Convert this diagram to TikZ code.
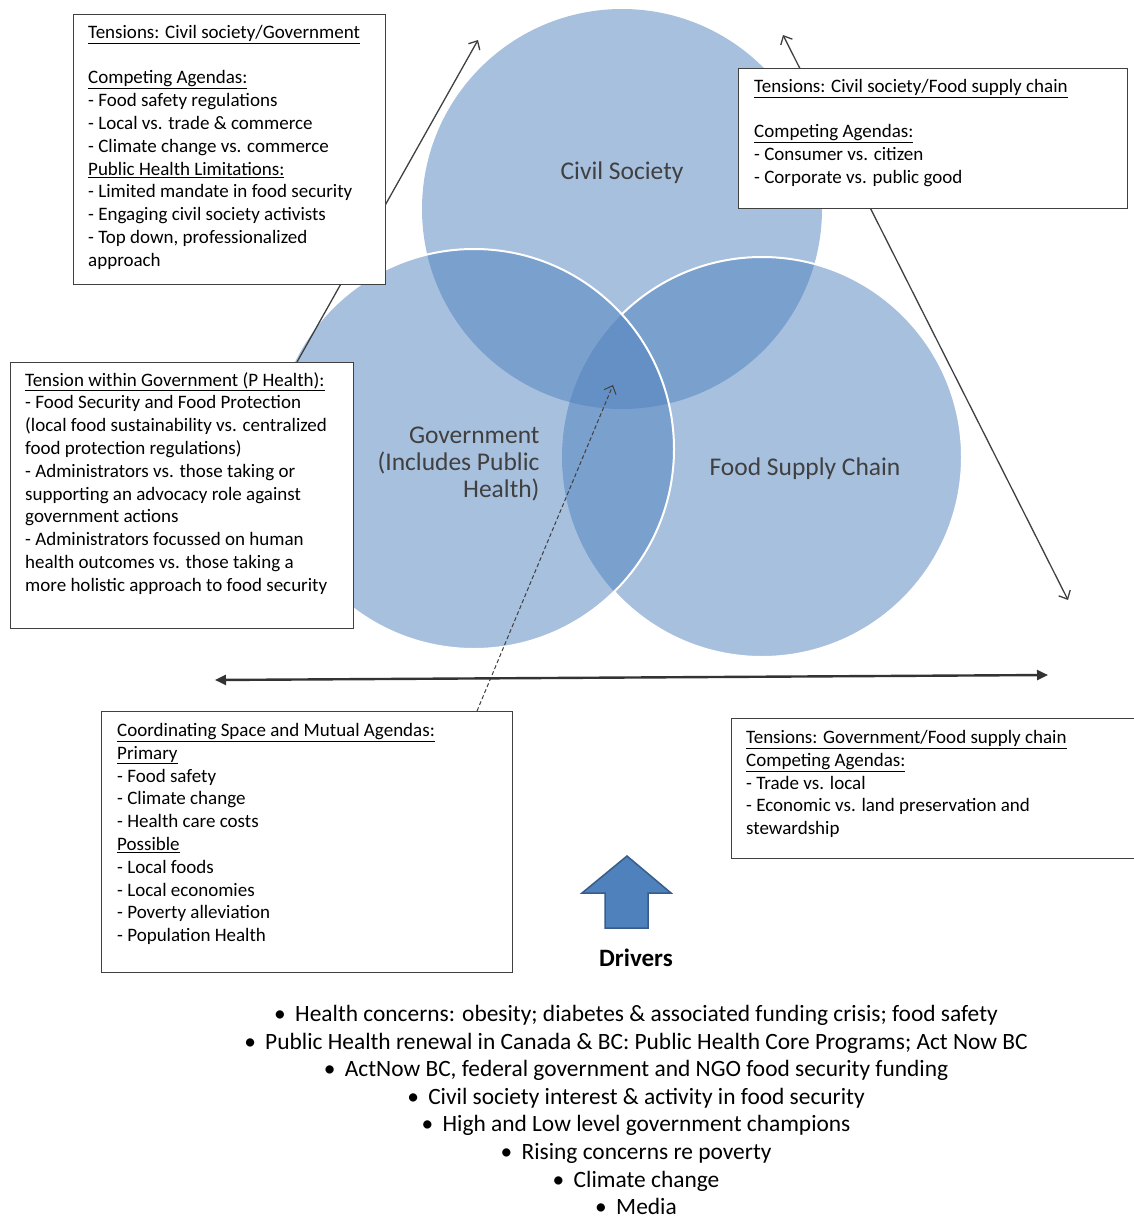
\documentclass[tikz,border=0pt]{standalone}
\usepackage{fontspec}
\setmainfont{Carlito}
\usetikzlibrary{arrows.meta,positioning,calc}
\pgfdeclarelayer{venn}
\pgfdeclarelayer{links}
\pgfsetlayers{venn,links,main}
\definecolor{vennblue}{RGB}{79,129,189}
\definecolor{arrowedge}{RGB}{56,93,138}
\definecolor{labelgray}{RGB}{64,64,64}

\begin{document}
\begin{tikzpicture}[
        x=1pt, y=-1pt, semithick,
        >={Straight Barb[length=7pt,width=13pt]}
    ]

    \tikzstyle{venn} = [circle,minimum size=400pt,inner sep=0pt,fill=vennblue,fill opacity=0.5]
    \tikzstyle{vlabel} = [text=labelgray,font=\fontsize{25.5}{27}\selectfont]
    \tikzstyle{block} = [rectangle,draw=black!75,line width=1.2pt,fill=white,anchor=north west,inner sep=0pt]
    \tikzstyle{blocktext} = [anchor=north west,align=left,inner sep=0pt,font=\fontsize{19}{22.8}\selectfont]
    \tikzstyle{link} = [draw=black!75,line width=1.3pt]
    \tikzstyle{both} = [line width=2.4pt,draw=black!80,{Triangle[length=11pt,width=10pt]}-{Triangle[length=11pt,width=10pt]}]

    \useasboundingbox (0,0) rectangle (1134,1220);

    \begin{pgfonlayer}{venn}
        \node[venn] (civil) at (622,209) {};
        \node[venn] (chain) at (762,457) {};
        \node[venn] (gov) at (474,449) {};
        \draw[white,line width=2pt] (gov.center) circle[radius=200];
        \begin{scope}[even odd rule]
            \clip (0,0) rectangle (1134,1220) (gov.center) circle[radius=200];
            \draw[white,line width=2pt] (chain.center) circle[radius=200];
        \end{scope}
    \end{pgfonlayer}

    \node[vlabel] (civillabel) at (622,173) {Civil Society};
    \node[vlabel] (chainlabel) at (805,469) {Food Supply Chain};
    \node[vlabel,align=right,anchor=east] (govlabel) at (543,464) {Government\\(Includes Public\\Health)};

    \node[block,minimum width=312pt,minimum height=270pt] (tcg) at (73,14) {};
    \node[blocktext] (tcgtext) at ([xshift=15pt,yshift=-11pt]tcg.north west) {%
        \underline{Tensions: Civil society/Government}\\[22.8pt]
        \underline{Competing Agendas:}\\
        - Food safety regulations\\
        - Local vs. trade \& commerce\\
        - Climate change vs. commerce\\
        \underline{Public Health Limitations:}\\
        - Limited mandate in food security\\
        - Engaging civil society activists\\
        - Top down, professionalized\\
        approach};

    \node[block,minimum width=389pt,minimum height=140pt] (tcf) at (738,68) {};
    \node[blocktext] (tcftext) at ([xshift=16pt,yshift=-11pt]tcf.north west) {%
        \underline{Tensions: Civil society/Food supply chain}\\[22.8pt]
        \underline{Competing Agendas:}\\
        - Consumer vs. citizen\\
        - Corporate vs. public good};

    \node[block,minimum width=343pt,minimum height=266pt] (tgw) at (10,362) {};
    \node[blocktext] (tgwtext) at ([xshift=15pt,yshift=-10pt]tgw.north west) {%
        \underline{Tension within Government (P Health):}\\
        - Food Security and Food Protection\\
        (local food sustainability vs. centralized\\
        food protection regulations)\\
        - Administrators vs. those taking or\\
        supporting an advocacy role against\\
        government actions\\
        - Administrators focussed on human\\
        health outcomes vs. those taking a\\
        more holistic approach to food security};

    \node[block,minimum width=411pt,minimum height=261pt] (mutual) at (101,711) {};
    \node[blocktext] (mutualtext) at ([xshift=16pt,yshift=-12pt]mutual.north west) {%
        \underline{Coordinating Space and Mutual Agendas:}\\
        \underline{Primary}\\
        - Food safety\\
        - Climate change\\
        - Health care costs\\
        \underline{Possible}\\
        - Local foods\\
        - Local economies\\
        - Poverty alleviation\\
        - Population Health};

    \node[block,minimum width=410pt,minimum height=140pt] (tgf) at (731,718) {};
    \node[blocktext] (tgftext) at ([xshift=15pt,yshift=-12pt]tgf.north west) {%
        \underline{Tensions: Government/Food supply chain}\\
        \underline{Competing Agendas:}\\
        - Trade vs. local\\
        - Economic vs. land preservation and\\
        stewardship};

    \coordinate (cgtip) at (478,40);
    \coordinate (cftop) at (783,35);
    \coordinate (cfbot) at (1068,600);
    \coordinate (gfleft) at (215,680);
    \coordinate (gfright) at (1048,675);
    \coordinate (core) at (613,385);

    \begin{pgfonlayer}{links}
        \path
            ([xshift=287pt]tgw.north west) edge[link,->] (cgtip)
            (cftop) edge[link,<->] (cfbot)
            ([xshift=376pt]mutual.north west) edge[link,->,dash pattern=on 4pt off 2.5pt,line width=1pt] (core)
            (gfleft) edge[both] (gfright)
        ;
    \end{pgfonlayer}

    \draw[fill=vennblue,draw=arrowedge,line width=1.5pt]
        (605,928) -- (605,893) -- (582,893) -- (627,856) -- (671,893) -- (648,893) -- (648,928) -- cycle;
    \node[font=\bfseries\fontsize{25}{28}\selectfont] (drivers) at (636,958) {Drivers};

    \node[align=center,anchor=north,inner sep=0pt,font=\fontsize{23.4}{27.6}\selectfont] (drivlist) at (636,1005) {%
        \textbullet\hspace{0.4em}Health concerns: obesity; diabetes \& associated funding crisis; food safety\\
        \textbullet\hspace{0.4em}Public Health renewal in Canada \& BC: Public Health Core Programs; Act Now BC\\
        \textbullet\hspace{0.4em}ActNow BC, federal government and NGO food security funding\\
        \textbullet\hspace{0.4em}Civil society interest \& activity in food security\\
        \textbullet\hspace{0.4em}High and Low level government champions\\
        \textbullet\hspace{0.4em}Rising concerns re poverty\\
        \textbullet\hspace{0.4em}Climate change\\
        \textbullet\hspace{0.4em}Media};

\end{tikzpicture}
\end{document}
